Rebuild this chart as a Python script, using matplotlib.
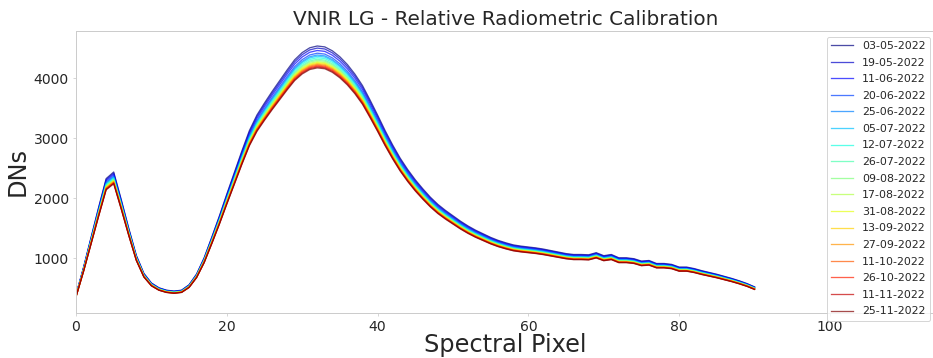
import numpy as np
import matplotlib
matplotlib.use("Agg")
import matplotlib.pyplot as plt

########################################
# Data
########################################
# spectral pixel index
pixels = np.arange(0, 91)

# reference spectrum (03-05-2022 acquisition), DNs
base_dn = [
    390, 850, 1350, 1850, 2330, 2440, 1980, 1500, 1050, 750,
    590, 510, 470, 455, 470, 560, 740, 1010, 1350, 1700,
    2070, 2430, 2790, 3130, 3390, 3590, 3780, 3960, 4140, 4310,
    4430, 4510, 4540, 4525, 4460, 4360, 4230, 4070, 3880, 3640,
    3390, 3130, 2890, 2670, 2480, 2310, 2160, 2020, 1900, 1800,
    1710, 1620, 1540, 1470, 1410, 1350, 1300, 1260, 1225, 1205,
    1190, 1175, 1155, 1130, 1105, 1080, 1065, 1065, 1060, 1095,
    1045, 1065, 1010, 1010, 995, 955, 965, 915, 915, 900,
    855, 855, 830, 795, 765, 735, 700, 665, 625, 580,
    525,
]

dates = [
    "03-05-2022", "19-05-2022", "11-06-2022", "20-06-2022", "25-06-2022",
    "05-07-2022", "12-07-2022", "26-07-2022", "09-08-2022", "17-08-2022",
    "31-08-2022", "13-09-2022", "27-09-2022", "11-10-2022", "26-10-2022",
    "11-11-2022", "25-11-2022",
]

# peak DN of each acquisition (read at pixel 32)
peak_dn = [
    4540, 4505, 4465, 4420, 4390, 4370, 4345, 4320, 4300, 4280,
    4265, 4250, 4235, 4220, 4205, 4190, 4175,
]

########################################
# Style
########################################
plt.rcParams["font.family"] = ["DejaVu Sans"]
plt.rcParams["text.color"] = ".15"
plt.rcParams["axes.labelcolor"] = ".15"
plt.rcParams["xtick.color"] = ".15"
plt.rcParams["ytick.color"] = ".15"

W, H, DPI = 933, 358, 72
fig = plt.figure(figsize=(W / DPI, H / DPI), dpi=DPI)
ax_left, ax_right, ax_top, ax_bottom = 76, 935.5, 31, 313
ax = fig.add_axes([ax_left / W, 1 - ax_bottom / H,
                   (ax_right - ax_left) / W, (ax_bottom - ax_top) / H])

base = np.array(base_dn, dtype=float)
colors = plt.cm.jet(np.linspace(0, 1, len(dates)))
for date, peak, col in zip(dates, peak_dn, colors):
    ax.plot(pixels, base * peak / base.max(), color=col[:3], alpha=0.7,
            lw=1.3, label=date)

ax.set_xlim(0, 114)
ax.set_ylim(90, 4790)
ax.set_xticks([0, 20, 40, 60, 80, 100])
ax.set_yticks([1000, 2000, 3000, 4000])

for s in ax.spines.values():
    s.set_color(".8")
    s.set_linewidth(1.0)
ax.tick_params(labelsize=14, length=3, width=0.8, color=".8", pad=4)

ax.set_title("VNIR LG - Relative Radiometric Calibration", fontsize=20, pad=6)
ax.set_xlabel("Spectral Pixel", fontsize=24, labelpad=-1)
ax.set_ylabel("DNs", fontsize=24, labelpad=4)

ax.legend(loc="upper right", fontsize=11, frameon=True, edgecolor=".8",
          borderaxespad=0.5, labelspacing=0.6)

fig.savefig("out.png", dpi=DPI)
